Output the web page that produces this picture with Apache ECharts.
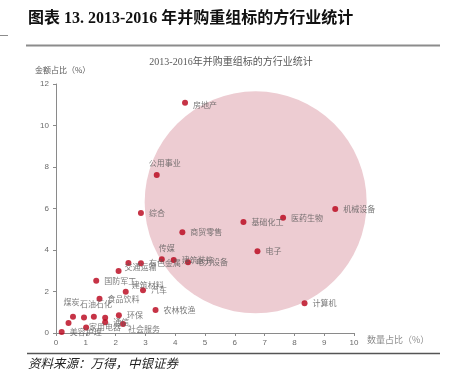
<!DOCTYPE html>
<html>
<head>
<meta charset="utf-8">
<script src="https://cdn.jsdelivr.net/npm/echarts@6/dist/echarts.min.js"></script>
<style>html,body{margin:0;padding:0;background:#fff;}#c{width:452px;height:384px;}</style>
</head>
<body>
<div id="c"></div>
<script>
// ---- data ----
const industries = ['房地产','公用事业','综合','机械设备','医药生物','基础化工','电子','计算机','商贸零售','传媒','建筑装饰','电力设备','有色金属','轻工制造','交通运输','国防军工','建筑材料','汽车','食品饮料','农林牧渔','环保','煤炭','石油石化','纺织服饰','钢铁','非银金融','通信','家用电器','社会服务','美容护理'];
const countShare = [4.33,3.38,2.85,9.37,7.62,6.29,6.76,8.34,4.24,3.55,3.95,4.43,2.85,2.43,2.10,1.35,2.34,2.92,1.46,3.34,2.11,0.42,0.57,0.94,1.27,1.65,1.65,1.01,2.25,0.19];
const amountShare = [11.1,7.61,5.78,5.98,5.56,5.35,3.94,1.43,4.85,3.55,3.52,3.41,3.36,3.37,2.99,2.52,1.99,2.06,1.65,1.11,0.85,0.48,0.78,0.75,0.78,0.74,0.52,0.26,0.43,0.05];
const bubbleCenter = [6.7, 6.3];
const xTicks = [0,1,2,3,4,5,6,7,8,9,10];
const yTicks = [0,2,4,6,8,10,12];

// ---- label styling (not data) ----
const hiddenLabels = ['轻工制造','纺织服饰','钢铁','非银金融'];
const labelTweaks = {
  '房地产': {offset:[0,2]},
  '公用事业': {position:'top', offset:[8,0]},
  '传媒': {position:'top', offset:[5,1]},
  '建筑材料': {offset:[-2,-7]},
  '石油石化': {offset:[-1,-13]},
  '煤炭': {offset:[-13,-21]},
  '社会服务': {offset:[-3,5]},
  '家用电器': {offset:[-5,-1]},
  '交通运输': {offset:[-2,-4]}
};

const pts = industries.map((n,i)=>{
  const d = {name:n, value:[countShare[i], amountShare[i]]};
  const lab = {};
  if (hiddenLabels.includes(n)) lab.show = false;
  if (labelTweaks[n]) Object.assign(lab, labelTweaks[n]);
  if (Object.keys(lab).length) d.label = lab;
  return d;
});

const chart = echarts.init(document.getElementById('c'), null, {renderer:'canvas'});
const serifCJK = '"Liberation Serif","Noto Sans CJK SC",serif';
const sansCJK = '"Noto Sans CJK SC","Liberation Sans",sans-serif';

chart.setOption({
  animation:false,
  backgroundColor:'#fff',
  grid:{left:56, top:84, width:298, height:249, containLabel:false},
  xAxis:{
    type:'value', min:xTicks[0], max:xTicks[xTicks.length-1], interval:1,
    axisLine:{show:true, lineStyle:{color:'#8a8a8a', width:1}},
    axisTick:{show:true, length:3, lineStyle:{color:'#8a8a8a'}},
    axisLabel:{color:'#6b6b6b', fontSize:8, fontFamily:'"Liberation Sans",sans-serif', margin:6},
    splitLine:{show:false}
  },
  yAxis:{
    type:'value', min:yTicks[0], max:yTicks[yTicks.length-1], interval:2,
    axisLine:{show:true, lineStyle:{color:'#8a8a8a', width:1}},
    axisTick:{show:true, length:3, lineStyle:{color:'#8a8a8a'}},
    axisLabel:{color:'#6b6b6b', fontSize:8, fontFamily:'"Liberation Sans",sans-serif', margin:7},
    splitLine:{show:false}
  },
  series:[
    {
      type:'scatter', z:1, silent:true,
      symbolSize:222,
      itemStyle:{color:'#edccd2', opacity:1},
      data:[bubbleCenter]
    },
    {
      type:'scatter', z:3,
      symbolSize:6,
      itemStyle:{color:'#b80018'},
      label:{show:true, position:'right', distance:5, formatter:'{b}', color:'#595959', fontSize:8, fontFamily:sansCJK},
      data:pts
    }
  ],
  graphic:[
    {type:'text', left:28, top:11, style:{text:'图表 13. 2013-2016 年并购重组标的方行业统计', font:'bold 16px '+serifCJK, fill:'#111'}},
    {type:'line', shape:{x1:26, y1:45.5, x2:440, y2:45.5}, style:{stroke:'#8c8c8c', lineWidth:2}},
    {type:'line', shape:{x1:0, y1:35.5, x2:8, y2:35.5}, style:{stroke:'#8c8c8c', lineWidth:1}},
    {type:'text', x:231, y:62, style:{text:'2013-2016年并购重组标的方行业统计', font:'10px '+serifCJK, fill:'#595959', align:'center', verticalAlign:'middle'}},
    {type:'text', x:35, y:70, style:{text:'金额占比（%）', font:'8px '+sansCJK, fill:'#595959', verticalAlign:'middle'}},
    {type:'text', x:367, y:340, style:{text:'数量占比（%）', font:'9px '+sansCJK, fill:'#8c8c8c', verticalAlign:'middle'}},
    {type:'line', shape:{x1:27, y1:353.5, x2:440, y2:353.5}, style:{stroke:'#555', lineWidth:1.5}},
    {type:'text', x:28, y:365, style:{text:'资料来源：万得，中银证券', font:'italic 12.5px '+serifCJK, fill:'#222', verticalAlign:'middle'}}
  ]
});
</script>
</body>
</html>
